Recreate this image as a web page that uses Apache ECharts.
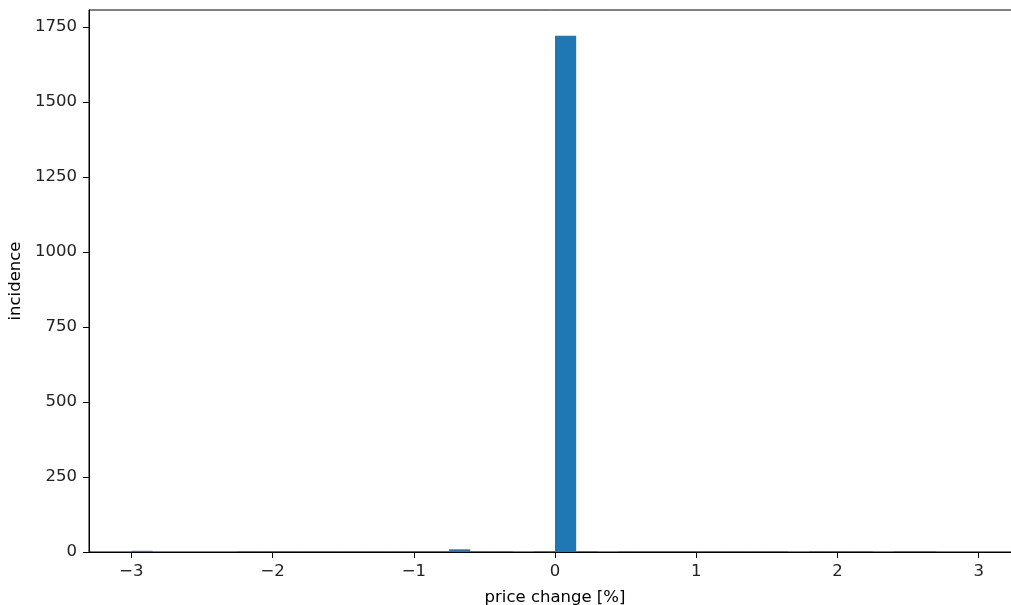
<!DOCTYPE html>
<html>
<head>
<meta charset="utf-8">
<script src="https://cdn.jsdelivr.net/npm/echarts@6/dist/echarts.min.js"></script>
<style>
html,body{margin:0;padding:0;overflow:hidden;background:#fff;}
#chart{width:1011px;height:605px;}
</style>
</head>
<body>
<div id="chart"></div>
<script>
// Histogram bins (left edges, %) and counts
const binWidth = 0.15;
const binLefts = [-3.00, -2.25, -2.10, -1.95, -1.80, -1.65, -1.50, -1.35, -1.20, -1.05, -0.90, -0.75, -0.60, -0.45,
                  -0.15, 0.00, 0.15,
                  0.45, 0.60, 0.75, 0.90, 1.05, 1.20, 1.35, 1.50,
                  1.80, 1.95, 2.10,
                  2.40, 2.55];
const counts   = [4, 3, 3, 3, 3, 3, 3, 3, 3, 3, 3, 9, 3, 3,
                  3, 1721, 3,
                  3, 3, 3, 3, 3, 3, 3, 3,
                  3, 3, 3,
                  3, 3];
const xTicks = [-3, -2, -1, 0, 1, 2, 3];
const yTicks = [0, 250, 500, 750, 1000, 1250, 1500, 1750];

const fmtNum = v => (v < 0 ? '\u2212' + Math.abs(v) : String(v));
const FONT = 'DejaVu Sans';
const FS = 16.5;

const data = binLefts.map((l, i) => [l, l + binWidth, counts[i]]);
const yMax = Math.max(...counts) * 1.05;

const chart = echarts.init(document.getElementById('chart'));
chart.setOption({
  animation: false,
  backgroundColor: '#fff',
  grid: {left: 89, right: -10, top: 10, bottom: 53, outerBoundsMode: 'none', containLabel: false,
         show: true, borderColor: '#000', borderWidth: 1},
  xAxis: {
    type: 'value', min: -3.3, max: 3.3,
    name: 'price change [%]', nameLocation: 'middle', nameGap: 37,
    nameTextStyle: {fontFamily: FONT, fontSize: FS, color: '#000', verticalAlign: 'top'},
    axisLine: {show: true, onZero: false, lineStyle: {color: '#000', width: 1}},
    axisTick: {show: true, length: 6, inside: false, customValues: xTicks, lineStyle: {color: '#000'}},
    axisLabel: {customValues: xTicks, formatter: fmtNum, margin: 11, fontFamily: FONT, fontSize: FS, color: '#222'},
    splitLine: {show: false}
  },
  yAxis: {
    type: 'value', min: 0, max: yMax,
    name: 'incidence', nameLocation: 'middle', nameGap: 65, nameRotate: 90,
    nameTextStyle: {fontFamily: FONT, fontSize: FS, color: '#000'},
    axisLine: {show: true, onZero: false, lineStyle: {color: '#000', width: 1}},
    axisTick: {show: true, length: 6, customValues: yTicks, lineStyle: {color: '#000'}},
    axisLabel: {customValues: yTicks, formatter: fmtNum, margin: 12, fontFamily: FONT, fontSize: FS, color: '#222'},
    splitLine: {show: false}
  },
  series: [{
    type: 'custom',
    clip: true,
    data: data,
    encode: {x: [0, 1], y: 2},
    renderItem: function (params, api) {
      const p0 = api.coord([api.value(0), 0]);
      const p1 = api.coord([api.value(1), api.value(2)]);
      return {
        type: 'rect',
        shape: {x: p0[0], y: p1[1], width: p1[0] - p0[0], height: p0[1] - p1[1]},
        style: {fill: '#1f77b4'}
      };
    }
  }]
});
</script>
</body>
</html>
